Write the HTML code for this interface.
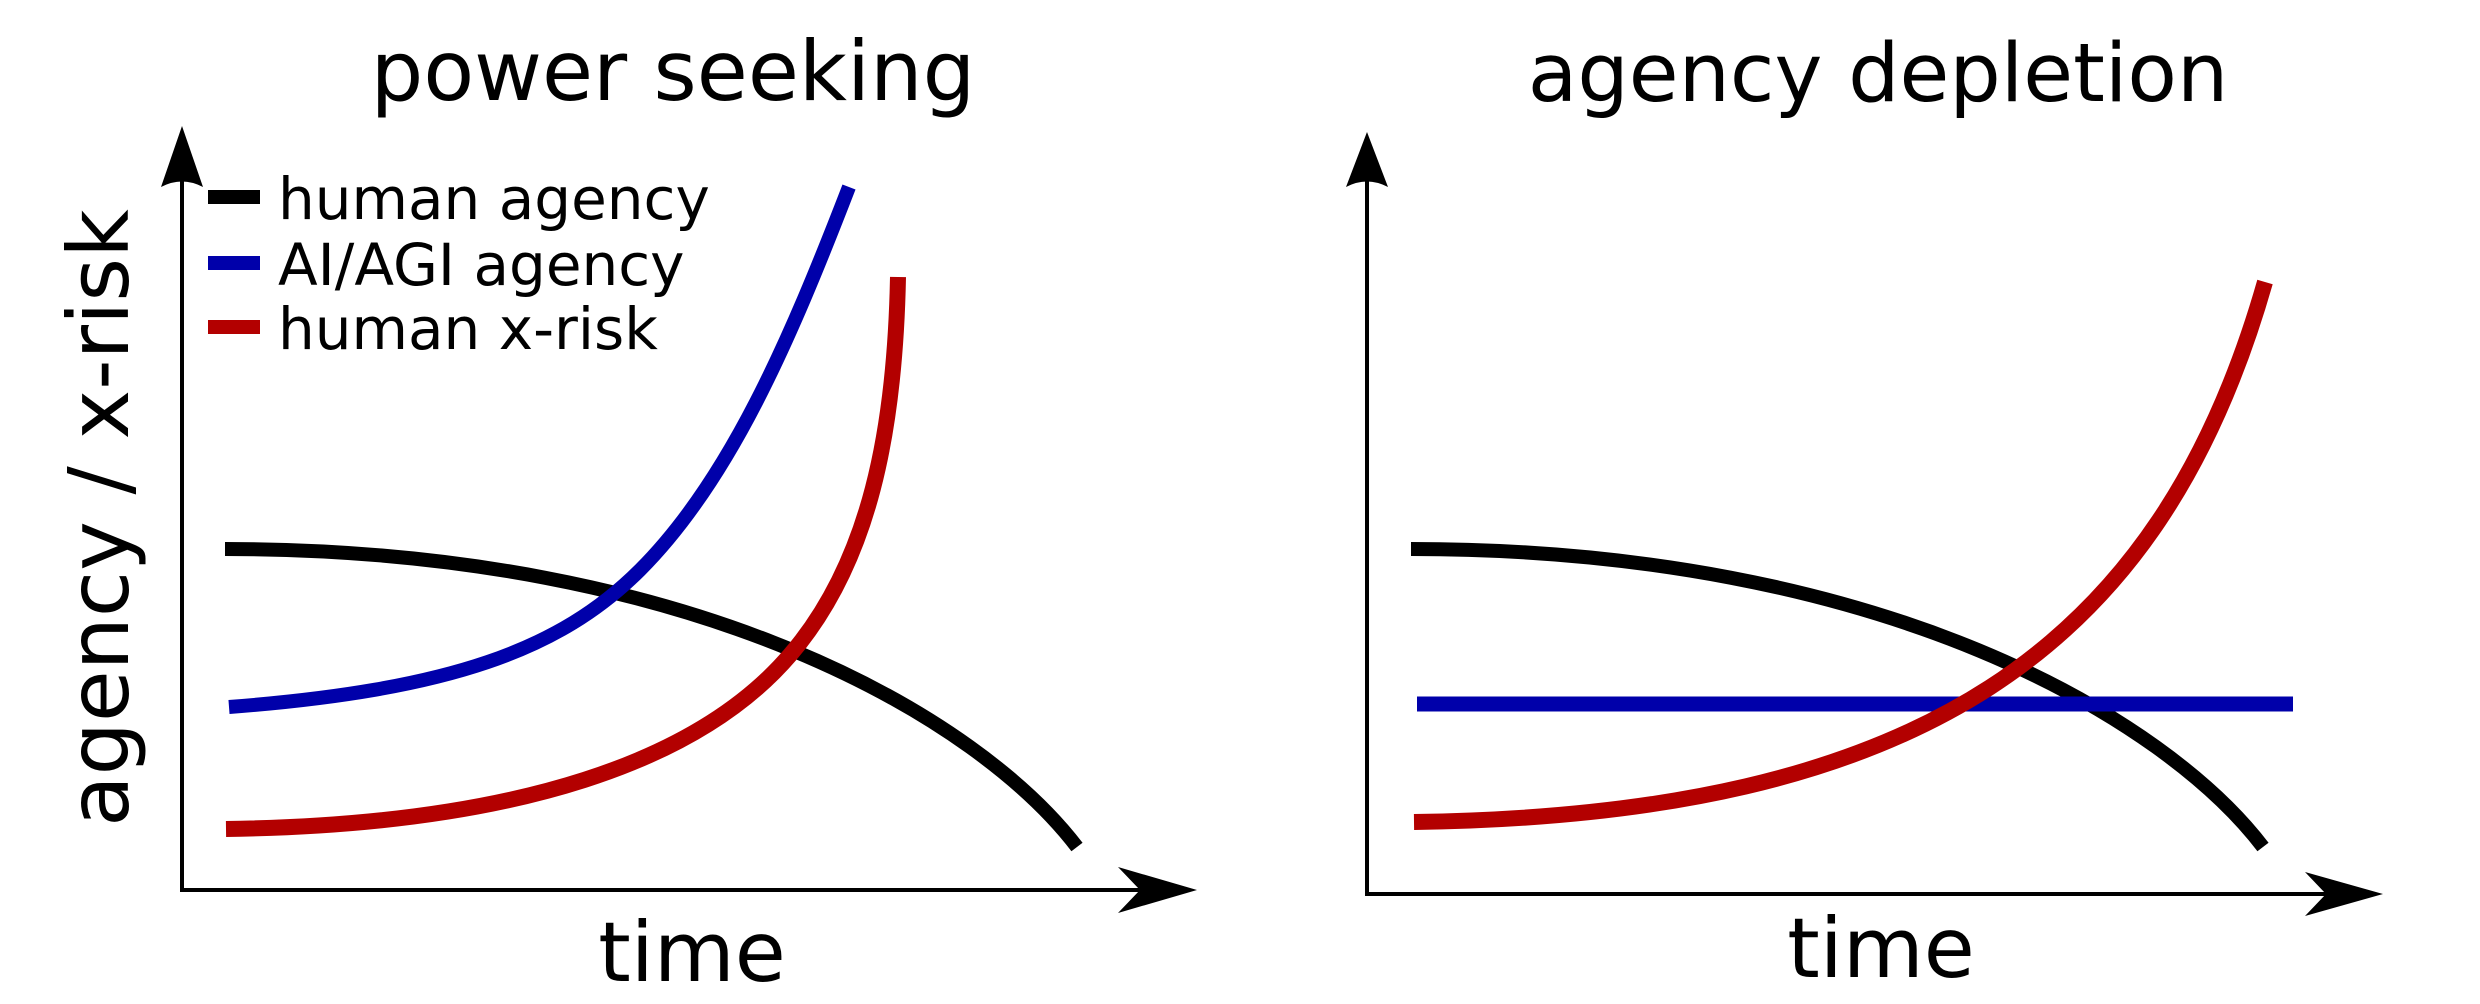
<!DOCTYPE html>
<html><head><style>html,body{margin:0;padding:0;background:#fff}svg{display:block}</style></head>
<body>
<svg width="2480" height="1004" viewBox="0 0 2480 1004" xmlns="http://www.w3.org/2000/svg" font-family="DejaVu Sans, Liberation Sans, sans-serif">
<rect width="2480" height="1004" fill="#fff"/>
<!-- Left panel -->
<text x="673" y="100" font-size="83" text-anchor="middle">power seeking</text>
<line x1="182" y1="180" x2="182" y2="890" stroke="#000" stroke-width="4"/>
<line x1="180" y1="890" x2="1150" y2="890" stroke="#000" stroke-width="4"/>
<path d="M182,126 L203,187 Q182,176 161,187 Z" fill="#000"/>
<path d="M1197,890 L1118,867 L1140,890 L1118,913 Z" fill="#000"/>
<path d="M225,549 C700,549 980,720 1077,847" fill="none" stroke="#000" stroke-width="14"/>
<path d="M229,707 C450,690 560,650 640,570 C730,480 790,340 849,187" fill="none" stroke="#0000aa" stroke-width="14"/>
<path d="M226,829 C520,825 700,760 790,655 C870,562 895,430 898,277" fill="none" stroke="#b30000" stroke-width="16"/>
<rect x="208" y="190" width="52" height="14" fill="#000"/>
<rect x="208" y="256" width="52" height="14" fill="#0000aa"/>
<rect x="208" y="320" width="52" height="14" fill="#b30000"/>
<text x="278" y="219" font-size="58">human agency</text>
<text x="278" y="285" font-size="58">AI/AGI agency</text>
<text x="278" y="349" font-size="58">human x-risk</text>
<text transform="translate(128,518) rotate(-90)" font-size="84" text-anchor="middle">agency / x-risk</text>
<text x="692" y="981" font-size="83" text-anchor="middle">time</text>
<!-- Right panel -->
<text x="1878" y="101" font-size="81" text-anchor="middle">agency depletion</text>
<line x1="1367" y1="180" x2="1367" y2="894" stroke="#000" stroke-width="4"/>
<line x1="1365" y1="894" x2="2335" y2="894" stroke="#000" stroke-width="4"/>
<path d="M1367,132 L1388,187 Q1367,176 1346,187 Z" fill="#000"/>
<path d="M2383,894 L2305,872 L2326,894 L2305,916 Z" fill="#000"/>
<path d="M1411,549 C1886,549 2166,720 2263,847" fill="none" stroke="#000" stroke-width="14"/>
<line x1="1417" y1="704" x2="2293" y2="704" stroke="#0000aa" stroke-width="15"/>
<path d="M1414,822 C1920,815 2160,650 2265,282" fill="none" stroke="#b30000" stroke-width="16"/>
<text x="1881" y="977" font-size="83" text-anchor="middle">time</text>
</svg>
</body></html>
